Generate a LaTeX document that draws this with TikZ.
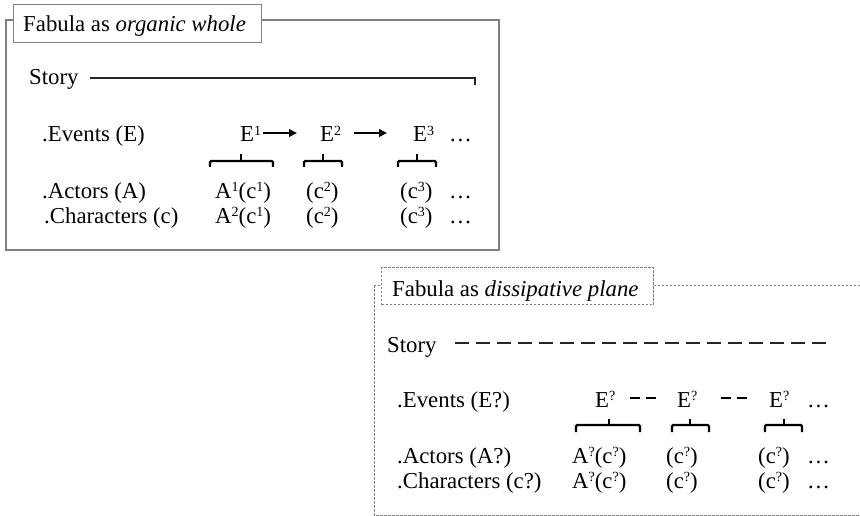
\documentclass[tikz,border=0pt]{standalone}
\usepackage{fontspec}
\setmainfont{Liberation Serif}
\usetikzlibrary{arrows.meta}
\definecolor{framegray}{RGB}{128,128,128}
\newcommand\mysup[1]{\raisebox{0.3em}{\fontsize{14}{14}\selectfont #1}}
\begin{document}
\begin{tikzpicture}[x=1pt,y=-1pt,
  txt/.style={anchor=base west, inner sep=0pt, font=\fontsize{22.8}{27}\selectfont},
  outerframe/.style={draw=framegray, line width=1.5pt},
  titleframe/.style={draw=framegray, line width=1.3pt, fill=white, anchor=north west, inner sep=0pt},
  dotframe/.style={draw=framegray, line width=1pt, dash pattern=on 2.5pt off 1.5pt},
  dottitle/.style={draw=framegray, line width=1pt, dash pattern=on 2.5pt off 1.5pt, fill=white, anchor=north west, inner sep=0pt},
  storyline/.style={draw=black!85, line width=1.6pt},
  storydash/.style={draw=black!85, line width=2.8pt, dash pattern=on 13.5pt off 7.5pt},
  evarrow/.style={draw=black, line width=2.2pt, -{Triangle[length=8pt,width=7.5pt]}},
  evdash/.style={draw=black, line width=2.8pt, dash pattern=on 10pt off 6pt},
  bracket/.style={draw=black, line width=2.2pt, rounded corners=1.2pt},
]
\useasboundingbox (0,0) rectangle (860,516);

% ---------- top panel ----------
\draw[outerframe] (6,20) rectangle (499,250);
\node (t1box) [titleframe, minimum width=248pt, minimum height=38pt] at (13,4) {};
\node (t1) [txt] at (23,32) {Fabula as \textit{organic whole}};

\node (story1) [txt] at (29,85) {Story};
\coordinate (s1a) at (90,78);
\coordinate (s1b) at (475,78);
\coordinate (s1c) at (475,85);
\draw[storyline] (s1a) -- (s1b) -- (s1c);

\node (ev1) [txt] at (42,142) {.Events (E)};
\node (e1) [txt] at (240,142) {E\mysup{1}};
\node (e2) [txt] at (320,142) {E\mysup{2}};
\node (e3) [txt] at (413,142) {E\mysup{3}};
\node (ed1) [txt] at (449,142) {…};
\draw[evarrow] ([shift={(2pt,9pt)}]e1.base east) -- ([shift={(-23pt,9pt)}]e2.base west);
\draw[evarrow] ([shift={(13pt,9pt)}]e2.base east) -- ([shift={(-26pt,9pt)}]e3.base west);

\draw[bracket] (210,167) -- (210,161) -- (273,161) -- (273,167);
\draw[bracket] (241,161) -- (241,154);
\draw[bracket] (304,167) -- (304,161) -- (342,161) -- (342,167);
\draw[bracket] (323,161) -- (323,154);
\draw[bracket] (398,167) -- (398,161) -- (436,161) -- (436,167);
\draw[bracket] (417,161) -- (417,154);

\node (ac1) [txt] at (42,198) {.Actors (A)};
\node (a1) [txt] at (215,198) {A\mysup{1}(c\mysup{1})};
\node (a2) [txt] at (306,198) {(c\mysup{2})};
\node (a3) [txt] at (400,198) {(c\mysup{3})};
\node (ad1) [txt] at (449,198) {…};

\node (ch1) [txt] at (44,223) {.Characters (c)};
\node (c1) [txt] at (215,223) {A\mysup{2}(c\mysup{1})};
\node (c2) [txt] at (306,223) {(c\mysup{2})};
\node (c3) [txt] at (400,223) {(c\mysup{3})};
\node (cd1) [txt] at (449,223) {…};

% ---------- bottom panel ----------
\draw[dotframe] (374,285) rectangle (875,515);
\node (t2box) [dottitle, minimum width=272pt, minimum height=37pt] at (381,267) {};
\node (t2) [txt] at (392,296) {Fabula as \textit{dissipative plane}};

\node (story2) [txt] at (387,352) {Story};
\coordinate (s2a) at (455,343);
\coordinate (s2b) at (827,343);
\draw[storydash] (s2a) -- (s2b);

\node (ev2) [txt] at (397,407) {.Events (E?)};
\node (f1) [txt] at (595,407) {E\mysup{?}};
\node (f2) [txt] at (677,407) {E\mysup{?}};
\node (f3) [txt] at (769,407) {E\mysup{?}};
\node (fd) [txt] at (807,407) {…};
\draw[evdash] ([shift={(14pt,9pt)}]f1.base east) -- ([shift={(-21pt,9pt)}]f2.base west);
\draw[evdash] ([shift={(23pt,9pt)}]f2.base east) -- ([shift={(-22pt,9pt)}]f3.base west);

\draw[bracket] (576,432) -- (576,425) -- (640,425) -- (640,432);
\draw[bracket] (609,425) -- (609,419);
\draw[bracket] (672,432) -- (672,425) -- (709,425) -- (709,432);
\draw[bracket] (690,425) -- (690,419);
\draw[bracket] (765,432) -- (765,425) -- (802,425) -- (802,432);
\draw[bracket] (784,425) -- (784,419);

\node (ac2) [txt] at (397,463) {.Actors (A?)};
\node (g1) [txt] at (572,463) {A\mysup{?}(c\mysup{?})};
\node (g2) [txt] at (666,463) {(c\mysup{?})};
\node (g3) [txt] at (758,463) {(c\mysup{?})};
\node (gd) [txt] at (807,463) {…};

\node (ch2) [txt] at (397,488) {.Characters (c?)};
\node (h1) [txt] at (572,488) {A\mysup{?}(c\mysup{?})};
\node (h2) [txt] at (666,488) {(c\mysup{?})};
\node (h3) [txt] at (758,488) {(c\mysup{?})};
\node (hd) [txt] at (807,488) {…};
\end{tikzpicture}
\end{document}
